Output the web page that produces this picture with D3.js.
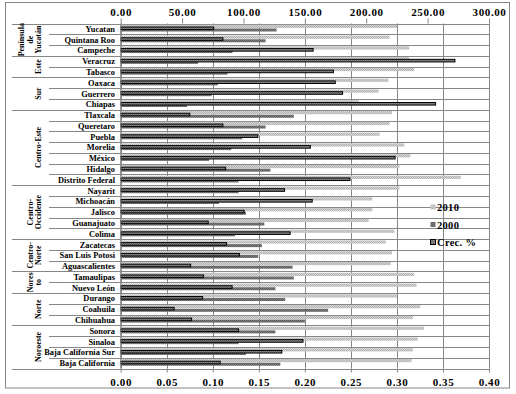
<!DOCTYPE html>
<html lang="es">
<head>
    <meta charset="UTF-8">
    <title>Crecimiento por estado 2000-2010</title>
    <script src="https://d3js.org/d3.v7.min.js"></script>
    <style>
        body { margin: 0; background: #fff; font-family: "Liberation Serif", "Times New Roman", serif; }
        .lbl { font-weight: bold; fill: #000; }
        .axis path { display: none; }
        .axis line { stroke: #868686; }
        .axis text { font-family: "Liberation Serif", serif; font-weight: bold; font-size: 11px; letter-spacing: 0.6px; fill: #000; }
    </style>
</head>
<body>
    <script>
        // States from top to bottom
        const states = ['Yucatan', 'Quintana Roo', 'Campeche', 'Veracruz', 'Tabasco', 'Oaxaca', 'Guerrero', 'Chiapas',
            'Tlaxcala', 'Queretaro', 'Puebla', 'Morelia', 'México', 'Hidalgo', 'Distrito Federal',
            'Nayarit', 'Michoacán', 'Jalisco', 'Guanajuato', 'Colima', 'Zacatecas', 'San Luis Potosi', 'Aguascalientes',
            'Tamaulipas', 'Nuevo León', 'Durango', 'Coahuila', 'Chihuahua', 'Sonora', 'Sinaloa', 'Baja California Sur', 'Baja California'];

        // Regions (label lines) and how many states each holds
        const regionLabels = [['Península', 'de', 'Yucatán'], ['Este'], ['Sur'], ['Centro-Este'], ['Centro-', 'Occidente'],
            ['Centro-', 'Norte'], ['Nores', 'to'], ['Norte'], ['Noroeste']];
        const regionSizes = [3, 2, 3, 7, 5, 3, 2, 3, 4];

        // Series values (2010 and 2000 on top axis, Crec. % on bottom axis)
        const v2010 = [225, 219, 235, 235, 239, 218, 210, 194, 221, 219, 211, 231, 236, 227, 277, 227,
            205, 205, 202, 223, 216, 221, 220, 239, 241, 225, 244, 238, 247, 242, 238, 237];
        const v2000 = [127, 118, 91, 63, 87, 79, 74, 54, 141, 118, 99, 90, 72, 122, 96, 96,
            80, 102, 117, 93, 115, 112, 140, 141, 126, 134, 169, 150, 126, 96, 102, 130];
        const crec = [0.101, 0.111, 0.209, 0.363, 0.231, 0.233, 0.241, 0.342, 0.075, 0.111, 0.149, 0.206, 0.298, 0.114, 0.249, 0.178,
            0.208, 0.134, 0.095, 0.184, 0.115, 0.129, 0.076, 0.090, 0.121, 0.089, 0.058, 0.077, 0.128, 0.198, 0.175, 0.108];

        const topTicks = [0, 50, 100, 150, 200, 250, 300];
        const bottomTicks = [0, 0.05, 0.10, 0.15, 0.20, 0.25, 0.30, 0.35, 0.40];
        const legendItems = ['2010', '2000', 'Crec. %'];

        const W = 516, H = 394;
        const plot = {left: 120.7, right: 489, top: 23.5, bottom: 368.5};

        const svg = d3.select('body').append('svg')
            .attr('width', W)
            .attr('height', H);

        // Excel-like pattern fills
        const defs = svg.append('defs');
        function pattern(id, a, b) {
            const p = defs.append('pattern')
                .attr('id', id)
                .attr('width', 2).attr('height', 2)
                .attr('patternUnits', 'userSpaceOnUse');
            p.append('rect').attr('width', 2).attr('height', 2).attr('fill', a);
            p.append('rect').attr('width', 1).attr('height', 1).attr('fill', b);
            p.append('rect').attr('x', 1).attr('y', 1).attr('width', 1).attr('height', 1).attr('fill', b);
        }
        pattern('p2010', '#d6d6d6', '#b2b2b2');
        pattern('p2000', '#7a7a7a', '#5e5e5e');
        pattern('pcrec', '#8a8a8a', '#6a6a6a');
        const fills = ['url(#p2010)', 'url(#p2000)', 'url(#pcrec)'];

        // Outer border
        svg.append('rect')
            .attr('x', 5.5).attr('y', 2.5)
            .attr('width', 504).attr('height', 385.5)
            .attr('fill', 'none')
            .attr('stroke', '#868686');

        // Scales
        const y = d3.scaleBand()
            .domain(states)
            .range([plot.top, plot.bottom])
            .padding(0);

        const xTop = d3.scaleLinear().domain([0, 300]).range([plot.left, plot.right]);
        const xBot = d3.scaleLinear().domain([0, 0.4]).range([plot.left, plot.right]);

        // Vertical gridlines (bottom axis)
        svg.append('g').selectAll('line')
            .data(bottomTicks)
            .enter().append('line')
            .attr('x1', d => Math.round(xBot(d)) + 0.5)
            .attr('x2', d => Math.round(xBot(d)) + 0.5)
            .attr('y1', plot.top)
            .attr('y2', plot.bottom)
            .attr('stroke', '#868686');

        // Row separators (short for states, long for region boundaries)
        const regionStarts = [0];
        regionSizes.forEach((n, i) => regionStarts.push(regionStarts[i] + n));
        const boundaries = d3.range(states.length + 1);
        svg.append('g').selectAll('line')
            .data(boundaries)
            .enter().append('line')
            .attr('x1', d => regionStarts.includes(d) ? 12 : 49)
            .attr('x2', plot.right)
            .attr('y1', d => Math.round(plot.top + d * y.step()) + 0.5)
            .attr('y2', d => Math.round(plot.top + d * y.step()) + 0.5)
            .attr('stroke', '#868686');

        // Axes
        svg.append('g')
            .attr('class', 'axis')
            .attr('transform', `translate(0,${plot.top})`)
            .call(d3.axisTop(xTop).tickValues(topTicks).tickSize(5).tickPadding(3).tickFormat(d3.format('.2f')));

        svg.append('g')
            .attr('class', 'axis')
            .attr('transform', `translate(0,${plot.bottom})`)
            .call(d3.axisBottom(xBot).tickValues(bottomTicks).tickSize(4).tickPadding(6).tickFormat(d3.format('.2f')));

        // Bars
        const rows = states.map((s, i) => ({state: s, a: v2010[i], b: v2000[i], c: crec[i]}));

        svg.append('g').selectAll('rect')
            .data(rows)
            .enter().append('rect')
            .attr('x', plot.left)
            .attr('y', d => y(d.state) + 1.3)
            .attr('width', d => xTop(d.a) - plot.left)
            .attr('height', 3.2)
            .attr('fill', fills[0]);

        svg.append('g').selectAll('rect')
            .data(rows)
            .enter().append('rect')
            .attr('x', plot.left)
            .attr('y', d => y(d.state) + 5)
            .attr('width', d => xTop(d.b) - plot.left)
            .attr('height', 3)
            .attr('fill', fills[1]);

        svg.append('g').selectAll('rect')
            .data(rows)
            .enter().append('rect')
            .attr('x', plot.left)
            .attr('y', d => y(d.state) + 3.5)
            .attr('width', d => xBot(d.c) - plot.left)
            .attr('height', 2.6)
            .attr('fill', fills[2])
            .attr('stroke', '#000')
            .attr('stroke-width', 1);

        // Category axis line
        svg.append('line')
            .attr('x1', plot.left).attr('x2', plot.left)
            .attr('y1', plot.top).attr('y2', plot.bottom)
            .attr('stroke', '#868686');

        // State labels
        svg.append('g').selectAll('text')
            .data(states)
            .enter().append('text')
            .attr('class', 'lbl')
            .attr('x', 115)
            .attr('y', d => y(d) + y.step() / 2 + 3)
            .attr('text-anchor', 'end')
            .style('font-size', '8.4px')
            .text(d => d);

        // Region labels, rotated
        regionLabels.forEach((lines, i) => {
            const cy = plot.top + (regionStarts[i] + regionSizes[i] / 2) * y.step();
            const n = lines.length;
            lines.forEach((t, j) => {
                const bx = 41 - (n - 1 - j) * 8.5;
                svg.append('text')
                    .attr('class', 'lbl')
                    .attr('transform', `translate(${bx},${cy}) rotate(-90)`)
                    .attr('text-anchor', 'middle')
                    .style('font-size', '8px')
                    .text(t);
            });
        });

        // Legend
        const legend = svg.append('g').attr('transform', 'translate(430,204)');
        legendItems.forEach((name, i) => {
            legend.append('rect')
                .attr('x', 0.5).attr('y', i * 17.5 + 0.5)
                .attr('width', 5).attr('height', 5)
                .attr('fill', fills[i])
                .attr('stroke', i === 2 ? '#000' : 'none');
            legend.append('text')
                .attr('class', 'lbl')
                .attr('x', 7)
                .attr('y', i * 17.5 + 7)
                .style('font-size', '10.5px')
                .style('letter-spacing', '0.3px')
                .text(name);
        });
    </script>
</body>
</html>
